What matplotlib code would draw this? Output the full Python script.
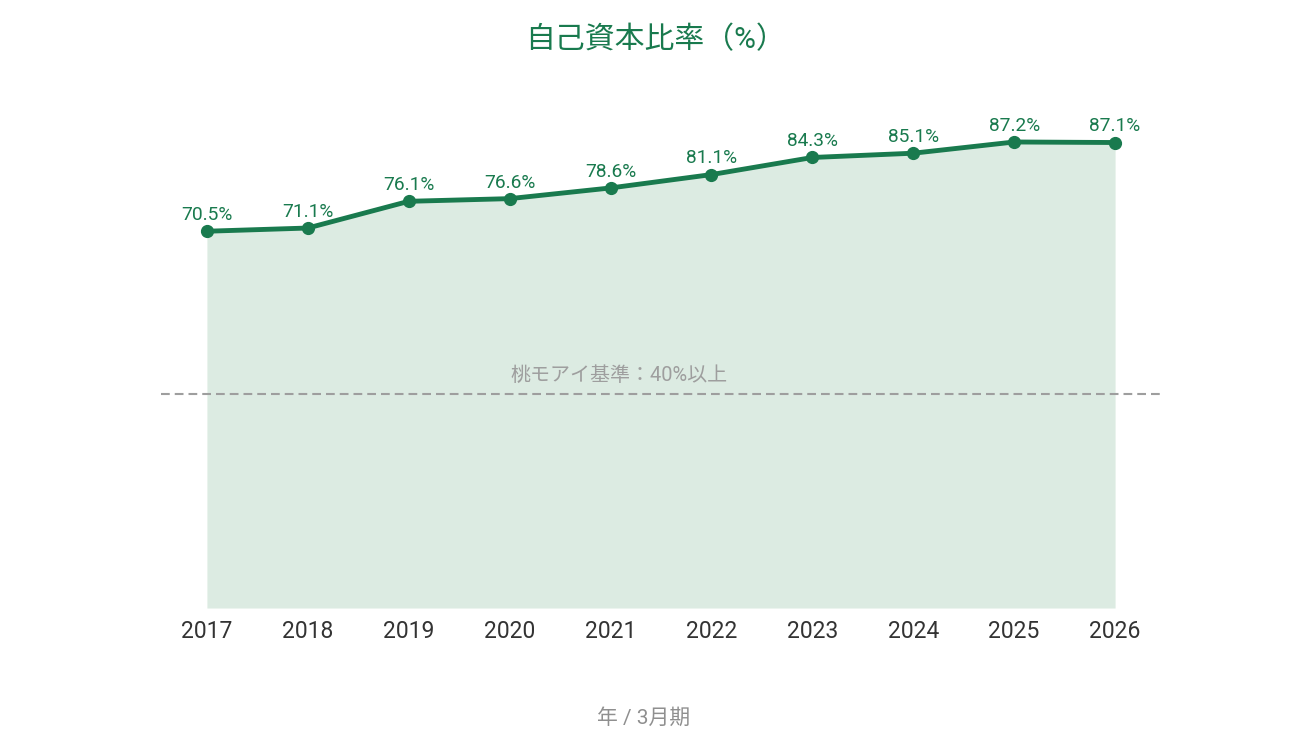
import matplotlib
matplotlib.use("Agg")
import matplotlib.pyplot as plt

years = ["2017", "2018", "2019", "2020", "2021", "2022", "2023", "2024", "2025", "2026"]
ratios = [70.5, 71.1, 76.1, 76.6, 78.6, 81.1, 84.3, 85.1, 87.2, 87.1]
benchmark = 40
benchmark_label = "桃モアイ基準：40%以上"
title = "自己資本比率（%）"
xlabel = "年 / 3月期"

plt.rcParams['font.family'] = ['Roboto', 'Noto Sans CJK JP', 'DejaVu Sans']

GREEN = "#197a4e"
FILL = "#dcebe2"
GRAY = "#9e9e9e"

fig = plt.figure(figsize=(12.9, 7.5), dpi=100)
ax = fig.add_axes([0.1248, 0.1893, 0.9 - 0.1248, 0.9019 - 0.1893])
x = list(range(len(years)))

ax.fill_between(x, 0, ratios, color=FILL, lw=0, zorder=1)
ax.plot(x, ratios, color=GREEN, lw=3.5, marker='o', ms=8.5, zorder=3)
ax.axhline(benchmark, color=GRAY, lw=1.5, ls=(0, (4.2, 2.4)), zorder=2)
ax.text(4.08, benchmark + 1.75, benchmark_label, color=GRAY, fontsize=14.4,
        ha='center', va='bottom')

for xi, v in zip(x, ratios):
    ax.annotate(f"{v}%", (xi, v), xytext=(0, 8), textcoords='offset points',
                ha='center', va='baseline', color=GREEN, fontsize=13.8)

ax.set_xlim(-0.455, 9.455)
ax.set_ylim(0, 100)
ax.set_xticks(x)
ax.set_xticklabels(years, fontsize=16.5, color="#333333")
ax.tick_params(axis='x', length=0, pad=8.5)
ax.set_yticks([])
for s in ax.spines.values():
    s.set_visible(False)

fig.text(655 / 1290, 1 - 40 / 750, title, ha='center', va='center', color=GREEN, fontsize=21.5)
fig.text(644 / 1290, 1 - 718 / 750, xlabel, ha='center', va='center', color="#8f8f8f", fontsize=15)

fig.savefig("out.png", dpi=100)
